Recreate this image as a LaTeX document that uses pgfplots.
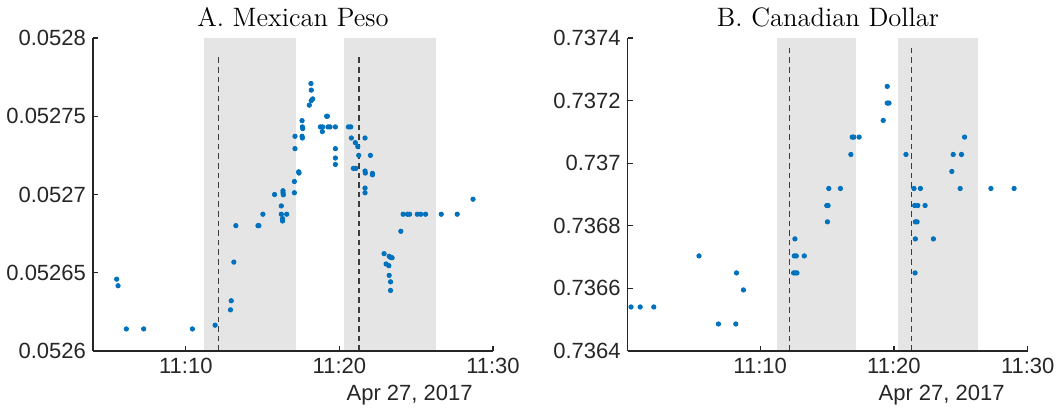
\documentclass[border=0pt]{standalone}
\usepackage{fontspec}
\newfontfamily\hel{Liberation Sans}
\usepackage{pgfplots}
\pgfplotsset{compat=1.18}

\definecolor{mblue}{HTML}{0072BD}
\definecolor{axgray}{HTML}{262626}
\definecolor{bandgray}{HTML}{E5E5E5}

\pgfplotsset{
  fx/.style={
    scale only axis, width=200pt, height=156.5pt,
    axis lines=left, axis line style={-, axgray, line width=0.6pt},
    tick style={axgray, line width=0.6pt}, tick align=inside,
    major tick length=2.5pt,
    xmax=30, xtick={10,20,30}, xticklabels={11:10,11:20,11:30},
    scaled y ticks=false,
    ticklabel style={font=\hel\fontsize{11}{13}\selectfont, text=axgray},
    axis on top,
  },
  dots/.style={only marks, mark=*, mark size=1.1pt, color=mblue},
}
\tikzset{vline/.style={axgray!90, line width=0.65pt, dash pattern=on 2.8pt off 2pt}}

\begin{document}
\begin{tikzpicture}
\useasboundingbox (0,0) rectangle (529pt,204pt);

% A. Mexican Peso
\begin{axis}[fx, at={(46.5pt,28.5pt)}, anchor=south west,
  xmin=3.96, ymin=0.0526, ymax=0.0528,
  ytick={0.0526,0.05265,0.0527,0.05275,0.0528},
  yticklabels={0.0526,0.05265,0.0527,0.05275,0.0528}]
\fill[bandgray] (axis cs:11.2,0.0526) rectangle (axis cs:17.2,0.0528);
\fill[bandgray] (axis cs:20.3,0.0526) rectangle (axis cs:26.3,0.0528);
\draw[vline] (axis cs:12.15,0.0526) -- (axis cs:12.15,0.05279);
\draw[vline] (axis cs:21.27,0.0526) -- (axis cs:21.27,0.05279);
\addplot[dots] coordinates {
(5.50,0.0526459)(5.59,0.0526417)
(6.13,0.0526141)(7.26,0.0526141)(10.43,0.0526141)
(11.91,0.0526165)
(12.91,0.0526263)(12.96,0.0526321)
(13.13,0.0526568)(13.26,0.0526801)
(14.70,0.0526801)(14.76,0.0526801)
(15.02,0.0526874)
(15.78,0.0527000)
(16.22,0.0526927)(16.22,0.0526874)
(16.30,0.0526846)(16.30,0.0526831)
(16.33,0.0527024)(16.33,0.0527011)(16.35,0.0526998)
(16.57,0.0526874)
(17.07,0.0527011)(17.07,0.0527083)
(17.35,0.0527145)(17.37,0.0527137)
(17.11,0.0527293)(17.11,0.0527372)
(17.57,0.0527472)
(17.59,0.0527432)(17.61,0.0527421)
(17.57,0.0527372)(17.59,0.0527361)
(18.04,0.0527571)
(18.17,0.0527600)(18.26,0.0527611)
(18.17,0.0527667)(18.15,0.0527709)
(18.76,0.0527432)(18.91,0.0527432)(19.26,0.0527432)(19.39,0.0527432)(19.74,0.0527432)
(18.89,0.0527402)
(19.17,0.0527500)(19.22,0.0527500)
(19.74,0.0527293)(19.74,0.0527233)(19.74,0.0527192)
(20.59,0.0527432)(20.74,0.0527432)
(20.78,0.0527361)
(21.04,0.0527331)(21.20,0.0527306)(21.26,0.0527250)
(20.91,0.0527167)(21.07,0.0527167)
(21.67,0.0527361)
(22.02,0.0527250)
(21.67,0.0527150)(21.69,0.0527137)
(22.15,0.0527135)(22.15,0.0527126)
(21.67,0.0527041)(21.67,0.0527011)
(22.91,0.0526622)
(23.04,0.0526556)(23.22,0.0526545)
(23.24,0.0526605)(23.33,0.0526598)(23.43,0.0526596)
(23.24,0.0526483)(23.33,0.0526442)(23.33,0.0526387)
(24.00,0.0526765)
(24.15,0.0526874)(24.43,0.0526874)(24.57,0.0526874)(25.07,0.0526874)
(25.30,0.0526874)(25.61,0.0526874)(26.63,0.0526874)(27.67,0.0526874)
(28.70,0.0526970)
};
\end{axis}

% B. Canadian Dollar
\begin{axis}[fx, at={(313.85pt,28.5pt)}, anchor=south west,
  xmin=0.1, ymin=0.7364, ymax=0.7374,
  ytick={0.7364,0.7366,0.7368,0.737,0.7372,0.7374},
  yticklabels={0.7364,0.7366,0.7368,0.737,0.7372,0.7374}]
\fill[bandgray] (axis cs:11.25,0.7364) rectangle (axis cs:17.2,0.7374);
\fill[bandgray] (axis cs:20.33,0.7364) rectangle (axis cs:26.3,0.7374);
\draw[vline] (axis cs:12.2,0.7364) -- (axis cs:12.2,0.73738);
\draw[vline] (axis cs:21.3,0.7364) -- (axis cs:21.3,0.73738);
\addplot[dots] coordinates {
(0.35,0.7365407)(1.03,0.7365407)(2.05,0.7365407)
(5.43,0.7367038)
(6.88,0.7364864)(8.18,0.7364864)
(8.23,0.7366495)
(8.75,0.7365951)
(12.60,0.7367582)
(12.55,0.7367038)(12.70,0.7367038)
(12.50,0.7366495)(12.63,0.7366495)(12.75,0.7366495)
(13.30,0.7367038)
(15.03,0.7368126)
(14.98,0.7368648)(15.08,0.7368648)
(15.13,0.7369192)
(16.00,0.7369192)
(16.78,0.7370279)
(16.88,0.7370834)(17.00,0.7370834)
(17.40,0.7370834)
(19.20,0.7371367)
(19.50,0.7371921)(19.63,0.7371921)
(19.50,0.7372454)
(20.90,0.7370279)
(21.50,0.7369192)(21.98,0.7369192)
(21.55,0.7368648)(21.78,0.7368648)
(22.33,0.7368648)
(21.60,0.7368126)(21.73,0.7368126)
(21.60,0.7367582)
(21.58,0.7366495)
(22.95,0.7367582)
(24.33,0.7369736)
(24.43,0.7370279)
(25.05,0.7370279)
(24.95,0.7369192)
(25.28,0.7370834)
(27.25,0.7369192)
(28.98,0.7369192)
};
\end{axis}

\node[anchor=base, inner sep=0pt, font=\fontsize{13.3}{15}\selectfont] at (146.5pt,190.5pt) {A. Mexican Peso};
\node[anchor=base, inner sep=0pt, font=\fontsize{13.3}{15}\selectfont] at (414pt,190.5pt) {B. Canadian Dollar};
\node[anchor=base east, inner sep=0pt, text=axgray, font=\hel\fontsize{11}{13}\selectfont] at (236.5pt,4pt) {Apr 27, 2017};
\node[anchor=base east, inner sep=0pt, text=axgray, font=\hel\fontsize{11}{13}\selectfont] at (502.5pt,4pt) {Apr 27, 2017};
\end{tikzpicture}
\end{document}
